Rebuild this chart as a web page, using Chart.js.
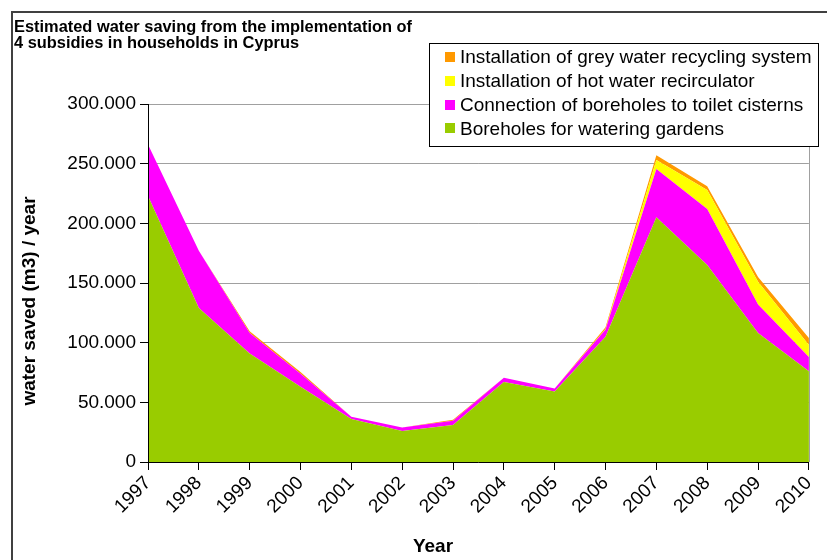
<!DOCTYPE html>
<html>
<head>
<meta charset="utf-8">
<title>Estimated water saving – Cyprus</title>
<script src="https://cdn.jsdelivr.net/npm/chart.js@4/dist/chart.umd.min.js"></script>
<style>
  html, body { margin: 0; padding: 0; background: #ffffff; }
  #wrap { width: 827px; height: 560px; position: relative; }
  canvas { display: block; }
</style>
</head>
<body>
<div id="wrap"><canvas id="chart" width="827" height="560"></canvas></div>
<script>
// Years of the subsidy programme
const years = ['1997', '1998', '1999', '2000', '2001', '2002', '2003',
               '2004', '2005', '2006', '2007', '2008', '2009', '2010'];

// Water saved per subsidy, m3 per year (stacked from the bottom up)
const gardenBoreholes = [223000, 129000, 91000, 63000, 36000, 26000, 31000,
                         67000, 59000, 105000, 205000, 165000, 108000, 76000];
const toiletBoreholes = [43000, 48000, 17000, 11000, 2000, 3000, 3500,
                         3500, 2500, 6000, 40500, 47000, 24000, 12000];
const hotWaterRecirc  = [0, 0, 0, 0, 0, 0, 0,
                         0, 0, 500, 7500, 16000, 19000, 10000];
const greyWaterRecyc  = [0, 0, 1500, 1500, 0, 0, 1000,
                         0, 0, 1500, 4000, 3000, 4000, 6000];

const seriesNames = [
  'Boreholes for watering gardens',
  'Connection of boreholes to toilet cisterns',
  'Installation of hot water recirculator',
  'Installation of grey water recycling system'
];
const seriesColors = ['#99cc00', '#ff00ff', '#ffff00', '#ff9900'];

const yTicks = [0, 50000, 100000, 150000, 200000, 250000, 300000];

const titleLines = ['Estimated water saving from the implementation of',
                    '4 subsidies in households in Cyprus'];
const yTitle = 'water saved (m3) / year';
const xTitle = 'Year';

const FONT = '"Liberation Sans", Arial, sans-serif';

// thousands separated with a dot: 250.000
function fmt(v) {
  return String(Math.round(v)).replace(/\B(?=(\d{3})+(?!\d))/g, '.');
}

const values = [gardenBoreholes, toiletBoreholes, hotWaterRecirc, greyWaterRecyc];
const datasets = values.map((arr, i) => ({
  label: seriesNames[i],
  data: arr,
  backgroundColor: seriesColors[i],
  borderColor: seriesColors[i],
  borderWidth: 0,
  pointRadius: 0,
  tension: 0,
  fill: i === 0 ? 'origin' : '-1'
}));

// frame, titles, plot border and boxed legend
const decor = {
  id: 'decor',
  afterDatasetsDraw(chart) {
    const { ctx, chartArea: a } = chart;
    ctx.save();
    ctx.strokeStyle = '#a0a0a0';
    ctx.lineWidth = 1;
    ctx.beginPath();
    ctx.moveTo(Math.round(a.right) + 0.5, a.top);
    ctx.lineTo(Math.round(a.right) + 0.5, a.bottom);
    ctx.stroke();
    ctx.restore();
  },
  afterDraw(chart) {
    const { ctx } = chart;
    ctx.save();

    // outer frame
    ctx.strokeStyle = '#404040';
    ctx.lineWidth = 2;
    ctx.strokeRect(12, 12, 830, 560);

    // chart title
    ctx.fillStyle = '#000';
    ctx.textAlign = 'left';
    ctx.textBaseline = 'alphabetic';
    ctx.font = 'bold 16.4px ' + FONT;
    ctx.fillText(titleLines[0], 14, 32);
    ctx.fillText(titleLines[1], 14, 48);

    // axis titles
    ctx.font = 'bold 19px ' + FONT;
    ctx.textAlign = 'center';
    ctx.textBaseline = 'middle';
    ctx.fillText(xTitle, 433, 547);
    ctx.save();
    ctx.translate(30, 301);
    ctx.rotate(-Math.PI / 2);
    ctx.fillText(yTitle, 0, 0);
    ctx.restore();

    // legend box
    const lx = 429.5, ly = 43.5, lw = 389, lh = 103;
    ctx.fillStyle = '#fff';
    ctx.fillRect(lx, ly, lw, lh);
    ctx.strokeStyle = '#000';
    ctx.lineWidth = 1;
    ctx.strokeRect(lx, ly, lw, lh);
    ctx.font = '19px ' + FONT;
    ctx.textAlign = 'left';
    ctx.textBaseline = 'middle';
    for (let k = 0; k < 4; k++) {
      const idx = 3 - k;
      const cy = 57 + k * 23.8;
      ctx.fillStyle = seriesColors[idx];
      ctx.fillRect(445, Math.round(cy - 5), 10, 10);
      ctx.fillStyle = '#000';
      ctx.fillText(seriesNames[idx], 460, cy + 1);
    }
    ctx.restore();
  }
};

new Chart(document.getElementById('chart'), {
  type: 'line',
  data: { labels: years, datasets },
  plugins: [decor],
  options: {
    responsive: false,
    animation: false,
    layout: { padding: { left: 12, top: 104, right: 13, bottom: 0 } },
    plugins: {
      legend: { display: false },
      title: { display: false },
      tooltip: { enabled: false }
    },
    scales: {
      x: {
        type: 'category',
        offset: false,
        grid: { display: true, drawOnChartArea: false, drawTicks: true,
                tickLength: 8, color: '#000' },
        border: { display: true, color: '#000', width: 1, z: 1 },
        ticks: {
          color: '#000', font: { family: FONT, size: 19 },
          minRotation: 45, maxRotation: 45, padding: 2, autoSkip: false
        },
        afterFit(scale) { scale.height = 98; }
      },
      y: {
        stacked: true,
        min: 0, max: 300000,
        afterBuildTicks(scale) { scale.ticks = yTicks.map(v => ({ value: v })); },
        grid: { color: '#a0a0a0', tickColor: '#000', tickLength: 8, drawTicks: true },
        border: { display: true, color: '#000', width: 1, z: 1 },
        ticks: {
          color: '#000', font: { family: FONT, size: 19 }, padding: 4,
          callback: v => fmt(v)
        },
        afterFit(scale) { scale.width = 136; }
      }
    }
  }
});
</script>
</body>
</html>
